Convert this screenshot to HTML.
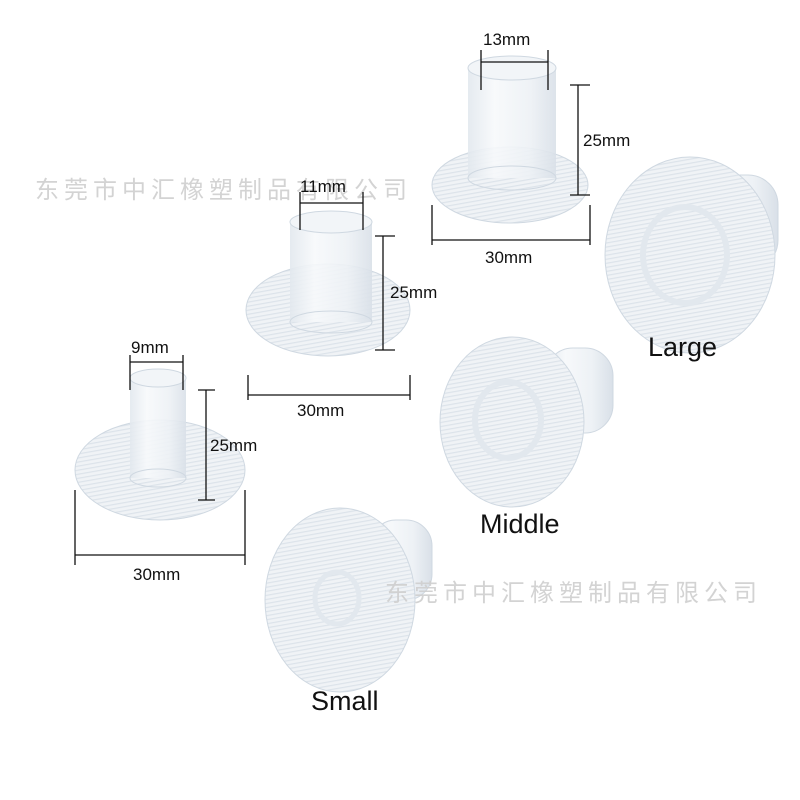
<!DOCTYPE html>
<html><head><meta charset="utf-8"><style>
html,body{margin:0;padding:0;background:#fff;}
svg{display:block}
text{font-family:"Liberation Sans","Noto Sans CJK SC",sans-serif;}
</style></head><body>
<svg width="800" height="800" viewBox="0 0 800 800" xmlns="http://www.w3.org/2000/svg">
<defs>
<linearGradient id="cyl" x1="0" x2="1" y1="0" y2="0">
<stop offset="0" stop-color="#e2e8ee"/><stop offset="0.3" stop-color="#f7f9fb"/><stop offset="0.7" stop-color="#edf1f5"/><stop offset="1" stop-color="#d9e0e8"/>
</linearGradient>
<pattern id="lines" width="4" height="4" patternUnits="userSpaceOnUse" patternTransform="rotate(80)">
<rect width="4" height="4" fill="#f0f3f6"/><rect width="1.2" height="4" fill="#dce3ea"/>
</pattern>
</defs>

<ellipse cx="510" cy="185" rx="78" ry="38" fill="url(#lines)" stroke="#cfd8e1"/>
<rect x="468" y="68" width="88" height="110" fill="url(#cyl)" opacity="0.9"/>
<ellipse cx="512" cy="68" rx="44" ry="12" fill="#f2f5f8" stroke="#cfd8e1"/>
<ellipse cx="512" cy="178" rx="44" ry="12" fill="none" stroke="#cfd8e1"/>
<ellipse cx="328" cy="310" rx="82" ry="46" fill="url(#lines)" stroke="#cfd8e1"/>
<rect x="290" y="222" width="82" height="100" fill="url(#cyl)" opacity="0.9"/>
<ellipse cx="331" cy="222" rx="41" ry="11" fill="#f2f5f8" stroke="#cfd8e1"/>
<ellipse cx="331" cy="322" rx="41" ry="11" fill="none" stroke="#cfd8e1"/>
<ellipse cx="160" cy="470" rx="85" ry="50" fill="url(#lines)" stroke="#cfd8e1"/>
<rect x="130" y="378" width="56" height="100" fill="url(#cyl)" opacity="0.9"/>
<ellipse cx="158" cy="378" rx="28" ry="9" fill="#f2f5f8" stroke="#cfd8e1"/>
<ellipse cx="158" cy="478" rx="28" ry="9" fill="none" stroke="#cfd8e1"/>

<g stroke="#cfd8e1">
<rect x="700" y="175" width="78" height="95" rx="30" fill="url(#cyl)"/>
<ellipse cx="690" cy="255" rx="85" ry="98" fill="url(#lines)"/>
<ellipse cx="685" cy="255" rx="42" ry="48" fill="none" stroke-width="6" stroke="#e2e8ee"/>
<rect x="545" y="348" width="68" height="85" rx="28" fill="url(#cyl)"/>
<ellipse cx="512" cy="422" rx="72" ry="85" fill="url(#lines)"/>
<ellipse cx="508" cy="420" rx="33" ry="38" fill="none" stroke-width="6" stroke="#e2e8ee"/>
<rect x="370" y="520" width="62" height="80" rx="26" fill="url(#cyl)"/>
<ellipse cx="340" cy="600" rx="75" ry="92" fill="url(#lines)"/>
<ellipse cx="337" cy="598" rx="22" ry="26" fill="none" stroke-width="5" stroke="#e2e8ee"/>
</g>

<g fill="#cfcfcf" font-size="24" letter-spacing="5" opacity="0.9">
<text x="35" y="198">东莞市中汇橡塑制品有限公司</text>
<text x="385" y="601">东莞市中汇橡塑制品有限公司</text>
</g>

<g stroke="#111" stroke-width="1.3" fill="none">
<path d="M481 50V90M548 50V90M481 62H548"/>
<path d="M570 85H590M570 195H590M578 85V195"/>
<path d="M432 205V245M590 205V245M432 240H590"/>
<path d="M300 192V230M363 192V230M300 203H363"/>
<path d="M375 236H395M375 350H395M383 236V350"/>
<path d="M248 375V400M410 375V400M248 395H410"/>
<path d="M130 355V390M183 355V390M130 362H183"/>
<path d="M198 390H215M198 500H215M206 390V500"/>
<path d="M75 490V565M245 490V565M75 555H245"/>
</g>
<g fill="#111" font-size="17">
<text x="483" y="45">13mm</text>
<text x="583" y="146">25mm</text>
<text x="485" y="263">30mm</text>
<text x="300" y="192">11mm</text>
<text x="390" y="298">25mm</text>
<text x="297" y="416">30mm</text>
<text x="131" y="353">9mm</text>
<text x="210" y="451">25mm</text>
<text x="133" y="580">30mm</text>
</g>
<g fill="#111" font-size="27">
<text x="648" y="356">Large</text>
<text x="480" y="533">Middle</text>
<text x="311" y="710">Small</text>
</g>
</svg>
</body></html>
